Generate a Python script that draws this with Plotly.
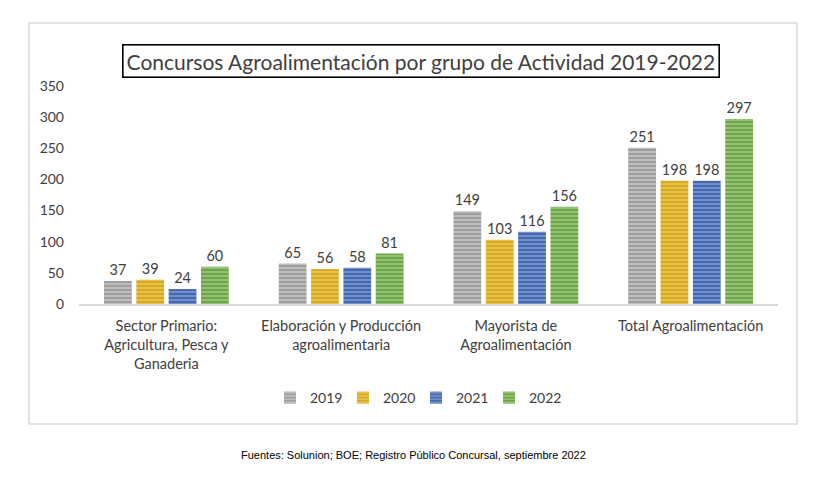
import plotly.graph_objects as go

categories = ['Sector Primario:<br>Agricultura, Pesca y<br>Ganaderia',
              'Elaboración y Producción<br>agroalimentaria',
              'Mayorista de<br>Agroalimentación',
              'Total Agroalimentación']
years = ['2019', '2020', '2021', '2022']
v2019 = [37, 65, 149, 251]
v2020 = [39, 56, 103, 198]
v2021 = [24, 58, 116, 198]
v2022 = [60, 81, 156, 297]
y_ticks = [0, 50, 100, 150, 200, 250, 300, 350]

series = [v2019, v2020, v2021, v2022]
colors = ['#9E9E9E', '#D9A91E', '#4469B0', '#6DA648']
stripes = ['#E4E4E4', '#F6DD8A', '#A9BEE6', '#C3E3AA']

# the page body has an 8px margin, so work in page pixels and shift
OFF = 8
W, H = 824 - OFF, 480 - OFF
L, T = 79 - OFF, 86 - OFF
R, B = W - (778 - OFF), H - (304 - OFF)
PW, PH = W - L - R, H - T - B


def px(x):
    return (x - OFF - L) / PW


def py(y):
    return (H - B - (y - OFF)) / PH


fig = go.Figure()
for name, vals, c, s in zip(years, series, colors, stripes):
    fig.add_trace(go.Bar(
        name=name, x=categories, y=vals, text=vals,
        textposition='outside', hoverinfo='x+y+name',
        textfont=dict(family='Lato', size=14.5, color='#404040'), cliponaxis=False,
        marker=dict(color=c, line=dict(width=0),
                    pattern=dict(shape='-', fgcolor=s, bgcolor=c, size=4, solidity=0.45)),
    ))

fig.update_layout(
    width=W, height=H, margin=dict(l=L, r=R, t=T, b=B),
    paper_bgcolor='white', plot_bgcolor='white',
    barmode='group', bargap=0.26, bargroupgap=0.14,
    font=dict(family='Lato', size=14, color='#404040'),
    xaxis=dict(showline=True, linecolor='#D9D9D9', linewidth=2, ticks='',
               ticklabelstandoff=8, tickfont=dict(size=14.5, color='#404040')),
    yaxis=dict(range=[0, 350], tickvals=y_ticks, showgrid=False, zeroline=False,
               showline=False, ticklabelstandoff=14, tickfont=dict(size=14, color='#404040')),
    legend=dict(orientation='h', x=px(416), xanchor='center', y=py(398), yanchor='middle',
                font=dict(size=14, color='#404040'), itemwidth=30, traceorder='normal',
                entrywidth=28, entrywidthmode='pixels'),
    showlegend=True,
)

# chart frame
fig.add_shape(type='rect', xref='paper', yref='paper',
              x0=px(29), x1=px(797), y0=py(424), y1=py(23),
              line=dict(color='#D9D9D9', width=1.5), layer='below')

# boxed title
fig.add_annotation(xref='paper', yref='paper', x=px(421), y=py(61),
                   xanchor='center', yanchor='middle',
                   text='Concursos Agroalimentación por grupo de Actividad 2019-2022',
                   showarrow=False, font=dict(family='Lato', size=21, color='#404040'),
                   bordercolor='black', borderwidth=1.6, borderpad=3, bgcolor='white')

# source note
fig.add_annotation(xref='paper', yref='paper', x=px(413), y=py(455),
                   xanchor='center', yanchor='middle',
                   text='Fuentes: Solunion; BOE; Registro Público Concursal, septiembre 2022',
                   showarrow=False, font=dict(family='Liberation Sans', size=11, color='black'))

fig.write_html('out.html')
